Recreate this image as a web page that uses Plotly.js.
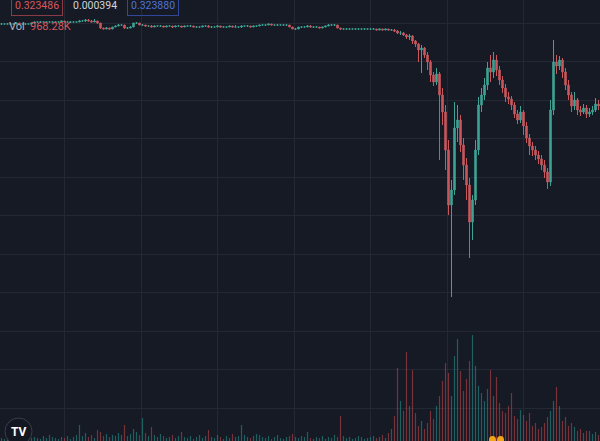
<!DOCTYPE html>
<html><head><meta charset="utf-8">
<script src="https://cdn.plot.ly/plotly-3.0.1.min.js"></script>
<style>html,body{margin:0;padding:0;background:#161a25;overflow:hidden}</style>
</head><body><div id="chart" style="width:600px;height:441px"></div>
<script>
const openP=[
.3236,.3236,.3236,.3236,.3236,.3236,.3237,.3236,.3236,.3236,
.3236,.3237,.3238,.3238,.3238,.3238,.3238,.3238,.3238,.3238,
.3238,.3239,.3238,.3238,.3238,.3238,.3238,.3239,.3239,.3240,
.3239,.3238,.3239,.3237,.3232,.3231,.3232,.3231,.3233,.3234,
.3235,.3235,.3232,.3232,.3233,.3237,.3237,.3235,.3235,.3234,
.3234,.3233,.3234,.3234,.3234,.3233,.3234,.3234,.3233,.3234,
.3234,.3233,.3234,.3234,.3234,.3233,.3233,.3233,.3234,.3234,
.3233,.3233,.3233,.3234,.3233,.3233,.3233,.3234,.3233,.3233,
.3233,.3234,.3234,.3234,.3233,.3234,.3234,.3235,.3235,.3235,
.3236,.3235,.3235,.3235,.3235,.3235,.3235,.3233,.3231,.3231,
.3233,.3233,.3233,.3234,.3233,.3233,.3233,.3232,.3233,.3234,
.3235,.3235,.3235,.3232,.3231,.3231,.3231,.3231,.3231,.3231,
.3231,.3231,.3231,.3231,.3231,.3231,.3230,.3231,.3230,.3231,
.3230,.3230,.3229,.3227,.3227,.3225,.3223,.3224,.3219,.3216,
.3210,.3212,.3205,.3198,.3185,.3178,.3186,.3165,.3148,.3110,
.3055,.3070,.3132,.3140,.3115,.3095,.3075,.3038,.3060,.3110,
.3155,.3165,.3175,.3192,.3188,.3200,.3190,.3180,.3172,.3163,
.3161,.3155,.3146,.3140,.3148,.3134,.3122,.3114,.3110,.3105,
.3101,.3095,.3088,.3078,.3150,.3198,.3194,.3200,.3188,.3175,
.3165,.3154,.3160,.3150,.3148,.3152,.3146,.3148,.3150,.3156];
const highP=[
.3237,.3236,.3237,.3236,.3236,.3237,.3237,.3236,.3237,.3236,
.3237,.3238,.3238,.3239,.3238,.3238,.3238,.3239,.3238,.3238,
.3239,.3239,.3238,.3238,.3239,.3238,.3240,.3240,.3241,.3241,
.3240,.3241,.3239,.3237,.3232,.3233,.3232,.3233,.3234,.3236,
.3235,.3235,.3233,.3234,.3237,.3238,.3237,.3236,.3235,.3234,
.3235,.3234,.3234,.3235,.3234,.3234,.3234,.3234,.3234,.3235,
.3234,.3234,.3234,.3235,.3234,.3234,.3233,.3234,.3234,.3235,
.3234,.3233,.3235,.3234,.3234,.3233,.3234,.3234,.3235,.3233,
.3234,.3234,.3235,.3234,.3234,.3234,.3235,.3236,.3235,.3236,
.3236,.3235,.3236,.3235,.3236,.3235,.3235,.3233,.3232,.3233,
.3233,.3234,.3235,.3235,.3233,.3234,.3233,.3233,.3234,.3236,
.3236,.3236,.3235,.3232,.3231,.3232,.3231,.3231,.3232,.3231,
.3231,.3232,.3231,.3231,.3232,.3231,.3231,.3231,.3231,.3231,
.3231,.3231,.3230,.3229,.3228,.3226,.3226,.3225,.3220,.3217,
.3215,.3213,.3208,.3200,.3188,.3192,.3188,.3172,.3155,.3120,
.3080,.3158,.3155,.3145,.3122,.3102,.3082,.3065,.3120,.3163,
.3172,.3182,.3198,.3205,.3208,.3205,.3194,.3184,.3176,.3168,
.3164,.3158,.3150,.3154,.3150,.3138,.3126,.3118,.3114,.3109,
.3105,.3100,.3092,.3160,.3220,.3205,.3204,.3202,.3192,.3180,
.3168,.3168,.3162,.3154,.3156,.3155,.3152,.3154,.3162,.3160];
const lowP=[
.3235,.3236,.3236,.3235,.3236,.3236,.3236,.3236,.3235,.3236,
.3236,.3237,.3238,.3238,.3238,.3237,.3238,.3238,.3238,.3238,
.3238,.3238,.3238,.3237,.3238,.3238,.3238,.3239,.3238,.3239,
.3238,.3238,.3236,.3231,.3231,.3231,.3230,.3231,.3233,.3234,
.3234,.3231,.3231,.3232,.3233,.3236,.3235,.3234,.3233,.3234,
.3233,.3233,.3234,.3233,.3233,.3233,.3234,.3232,.3233,.3234,
.3233,.3233,.3234,.3233,.3233,.3233,.3232,.3233,.3234,.3233,
.3232,.3233,.3233,.3233,.3233,.3232,.3233,.3233,.3233,.3232,
.3232,.3234,.3233,.3233,.3233,.3233,.3234,.3235,.3234,.3235,
.3235,.3235,.3234,.3235,.3235,.3234,.3233,.3231,.3230,.3231,
.3232,.3233,.3233,.3233,.3232,.3233,.3232,.3232,.3233,.3234,
.3235,.3234,.3232,.3230,.3231,.3231,.3230,.3231,.3231,.3230,
.3231,.3230,.3231,.3230,.3231,.3230,.3230,.3230,.3230,.3230,
.3230,.3228,.3226,.3225,.3224,.3221,.3220,.3216,.3213,.3198,
.3187,.3202,.3190,.3178,.3174,.3175,.3100,.3135,.3090,.3045,
.2963,.3065,.3118,.3108,.3080,.3060,.3002,.3020,.3055,.3105,
.3148,.3160,.3170,.3178,.3182,.3184,.3175,.3167,.3158,.3156,
.3150,.3142,.3136,.3137,.3125,.3117,.3105,.3104,.3100,.3096,
.3090,.3082,.3071,.3074,.3145,.3186,.3190,.3182,.3170,.3160,
.3148,.3150,.3145,.3144,.3146,.3142,.3143,.3145,.3148,.3150];
const closeP=[
.3236,.3236,.3236,.3236,.3236,.3237,.3236,.3236,.3236,.3236,
.3237,.3238,.3238,.3238,.3238,.3238,.3238,.3238,.3238,.3238,
.3239,.3238,.3238,.3238,.3238,.3238,.3239,.3239,.3240,.3239,
.3238,.3239,.3237,.3232,.3231,.3232,.3231,.3233,.3234,.3235,
.3235,.3232,.3232,.3233,.3237,.3237,.3235,.3235,.3234,.3234,
.3233,.3234,.3234,.3234,.3233,.3234,.3234,.3233,.3234,.3234,
.3233,.3234,.3234,.3234,.3233,.3233,.3233,.3234,.3234,.3233,
.3233,.3233,.3234,.3233,.3233,.3233,.3234,.3233,.3233,.3233,
.3234,.3234,.3234,.3233,.3234,.3234,.3235,.3235,.3235,.3236,
.3235,.3235,.3235,.3235,.3235,.3235,.3233,.3231,.3231,.3233,
.3233,.3233,.3234,.3233,.3233,.3233,.3232,.3233,.3234,.3235,
.3235,.3235,.3232,.3231,.3231,.3231,.3231,.3231,.3231,.3231,
.3231,.3231,.3231,.3231,.3231,.3230,.3231,.3230,.3231,.3230,
.3230,.3229,.3227,.3227,.3225,.3223,.3224,.3219,.3216,.3210,
.3212,.3205,.3198,.3185,.3178,.3186,.3165,.3148,.3110,.3055,
.3070,.3132,.3140,.3115,.3095,.3075,.3038,.3060,.3110,.3155,
.3165,.3175,.3192,.3188,.3200,.3190,.3180,.3172,.3163,.3161,
.3155,.3146,.3140,.3148,.3134,.3122,.3114,.3110,.3105,.3101,
.3095,.3088,.3078,.3150,.3198,.3194,.3200,.3188,.3175,.3165,
.3154,.3160,.3150,.3148,.3152,.3146,.3148,.3150,.3156,.3154];
const volK=[
30,20,40,20,30,50,20,30,40,20,
30,40,30,20,50,30,60,40,30,20,
40,30,50,20,40,60,160,50,80,40,
60,30,110,90,50,70,40,60,50,80,
60,160,50,70,120,90,60,230,80,50,
140,60,40,70,50,30,40,60,30,50,
90,40,30,50,20,40,60,30,50,110,
40,30,60,40,20,50,30,70,40,50,
160,60,40,30,50,70,60,40,30,50,
20,40,60,30,20,40,50,70,40,30,
50,40,90,30,20,40,30,50,20,40,
30,60,40,250,50,30,40,20,30,50,
40,20,30,40,50,30,40,60,30,80,
120,250,730,400,300,890,350,710,280,150,
200,120,180,300,220,350,450,600,780,680,
450,850,1020,700,500,620,800,1060,750,550,
480,400,520,710,450,640,380,300,280,350,
480,250,220,310,260,200,280,150,180,120,
140,180,240,300,400,540,350,200,240,150,
180,140,100,120,80,100,100,70,90,60];

const idx = openP.map((_, i) => i);
const UP = '#3ea394', DOWN = '#c9585d';
// TradingView colours a candle as "up" when close >= open
const isUp = closeP.map((c, i) => c >= openP[i]);
const pick = (arr, want) => arr.map((v, i) => isUp[i] === want ? v : null);
const volColors = isUp.map(u => u ? 'rgba(38,166,154,0.5)' : 'rgba(239,83,80,0.45)');

function candleTrace(want, color) {
  return {type:'candlestick', x: idx,
    open: pick(openP, want), high: pick(highP, want), low: pick(lowP, want), close: pick(closeP, want),
    increasing:{line:{color:color, width:1}, fillcolor:color},
    decreasing:{line:{color:color, width:1}, fillcolor:color},
    whiskerwidth:0, hoverinfo:'skip'};
}

const traces = [
  {type:'bar', x: idx, y: volK, yaxis:'y2', marker:{color: volColors, line:{width:0}}, hoverinfo:'skip'},
  candleTrace(true, UP),
  candleTrace(false, DOWN)
];

const W = 600, H = 441;
const px = x => x / W, py = y => 1 - y / H;
const FONT = 'Roboto, "Liberation Sans", sans-serif';

const layout = {
  width: W, height: H, margin:{l:0, r:0, t:0, b:0},
  paper_bgcolor:'#161a25', plot_bgcolor:'#161a25',
  showlegend:false, bargap:0.6,
  xaxis:{range:[-0.5, 199.5], tickmode:'linear', tick0:21, dtick:25.5, showgrid:true,
         gridcolor:'#242835', gridwidth:1, showticklabels:false, zeroline:false,
         rangeslider:{visible:false}, fixedrange:true},
  yaxis:{range:[0.2819, 0.3260], tickmode:'linear', tick0:0.3237, dtick:0.00385,
         showgrid:true, gridcolor:'#242835', gridwidth:1, showticklabels:false,
         zeroline:false, fixedrange:true},
  yaxis2:{range:[0, 4410], overlaying:'y', side:'right', visible:false, showgrid:false, fixedrange:true},
  annotations:[
    {xref:'paper', yref:'paper', x:px(36.5), y:py(5.5), xanchor:'center', yanchor:'middle', showarrow:false,
     text:'0.323486', font:{family:FONT, size:10.5, color:'#d8585c'},
     bordercolor:'#8a3c44', borderwidth:1, borderpad:3},
    {xref:'paper', yref:'paper', x:px(95), y:py(5.5), xanchor:'center', yanchor:'middle', showarrow:false,
     text:'0.000394', font:{family:FONT, size:10.5, color:'#d1d4dc'}},
    {xref:'paper', yref:'paper', x:px(153), y:py(5.5), xanchor:'center', yanchor:'middle', showarrow:false,
     text:'0.323880', font:{family:FONT, size:10.5, color:'#4f73d8'},
     bordercolor:'#33479a', borderwidth:1, borderpad:3},
    {xref:'paper', yref:'paper', x:px(7), y:py(27), xanchor:'left', yanchor:'middle', showarrow:false,
     text:'Vol', font:{family:FONT, size:11, color:'#b2b5be'}},
    {xref:'paper', yref:'paper', x:px(28), y:py(27), xanchor:'left', yanchor:'middle', showarrow:false,
     text:'968.28K', font:{family:FONT, size:11, color:'#d8585c'}},
    {xref:'paper', yref:'paper', x:px(18.5), y:py(432), xanchor:'center', yanchor:'middle', showarrow:false,
     text:'<b>TV</b>', font:{family:FONT, size:12, color:'#ffffff'}}
  ],
  shapes:[
    {type:'circle', xref:'paper', yref:'paper', x0:px(5), x1:px(32), y0:py(445), y1:py(418),
     line:{color:'#3a3e4a', width:1}, fillcolor:'#131722', layer:'above'},
    {type:'circle', xref:'paper', yref:'paper', x0:px(489), x1:px(496), y0:py(444), y1:py(436),
     line:{width:0}, fillcolor:'#f2a516', layer:'above'},
    {type:'circle', xref:'paper', yref:'paper', x0:px(497), x1:px(504), y0:py(444), y1:py(436),
     line:{width:0}, fillcolor:'#f2a516', layer:'above'}
  ]
};

Plotly.newPlot('chart', traces, layout, {displayModeBar:false, staticPlot:true});
</script></body></html>
